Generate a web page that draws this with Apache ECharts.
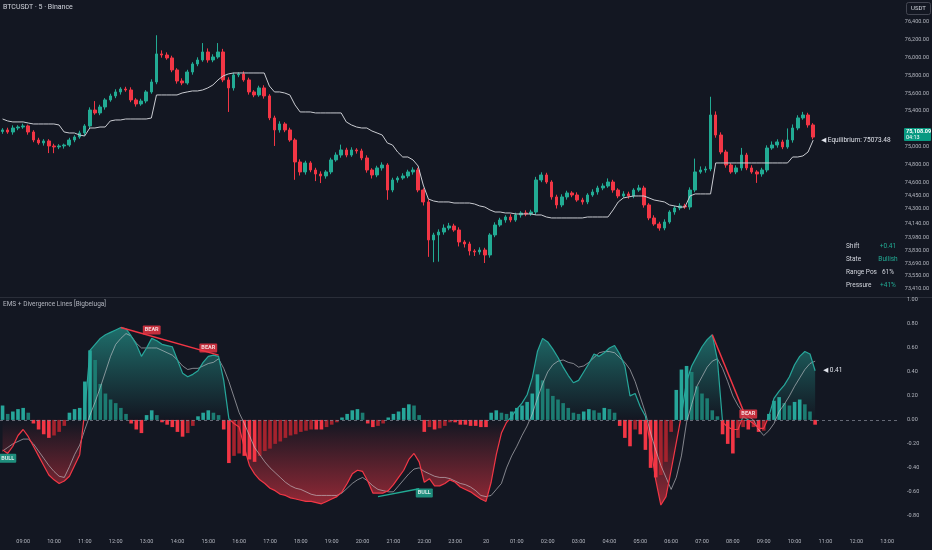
<!DOCTYPE html>
<html><head><meta charset="utf-8">
<script src="https://cdn.jsdelivr.net/npm/echarts@6/dist/echarts.min.js"></script>
<style>html,body{margin:0;padding:0;background:#131722;}#c{width:932px;height:550px;}</style>
</head><body><div id="c"></div>
<script>
// ---- data (10-minute slots starting 08:20) ----
const startTime = '08:20';
const slotCount = 175;
const firstOpen = 75170;
const closes = [75188,75165,75210,75221,75233,75165,75075,75042,75064,75008,
74997,75008,75019,75075,75109,75154,75233,75412,75379,75446,
75525,75570,75615,75648,75637,75525,75480,75513,75615,75727,
76042,76030,75997,75862,75738,75716,75839,75929,75974,76064,
75974,76008,76064,75750,75660,75806,75817,75750,75615,75581,
75660,75570,75323,75188,75255,75188,75075,74828,74716,74817,
74738,74693,74671,74716,74851,74906,74963,74906,74963,74952,
74873,74738,74682,74761,74794,74513,74626,74648,74671,74716,
74738,74513,74379,73952,74008,74041,74086,74109,74064,73929,
73907,73828,73817,73839,73783,74008,74120,74176,74210,74176,
74233,74255,74244,74266,74626,74682,74603,74435,74345,74435,
74480,74457,74401,74379,74457,74491,74536,74558,74603,74513,
74446,74469,74446,74513,74536,74345,74199,74131,74086,74154,
74266,74311,74334,74322,74513,74716,74738,74749,75356,75131,
74940,74794,74716,74761,74906,74761,74716,74693,74738,74985,
75019,75053,74997,75075,75210,75323,75356,75244,75108.09];
const upperWick = [20,25,30,20,25,15,20,25,20,20,
25,20,15,25,20,25,20,30,100,25,
20,25,30,20,25,30,20,25,20,30,
210,40,30,25,20,30,25,20,30,100,
40,30,100,35,30,25,20,30,25,20,
25,30,20,25,30,20,25,20,30,25,
20,25,30,20,25,30,60,25,30,20,
25,30,20,25,30,20,25,20,30,25,
30,25,20,30,25,30,40,35,25,30,
20,25,20,30,25,20,30,25,20,30,
25,20,30,25,35,30,25,20,25,30,
25,20,30,25,20,30,25,30,40,25,
20,30,25,20,35,25,20,30,25,30,
20,25,30,25,30,150,40,30,205,40,
30,25,20,30,80,25,30,20,25,30,
40,30,25,130,40,30,35,25,20];
const lowerWick = [25,20,30,25,20,30,25,20,30,80,
70,25,30,20,25,20,30,25,20,25,
30,20,25,30,20,25,30,20,25,20,
25,30,20,25,30,25,20,30,25,20,
30,25,20,25,270,30,25,20,30,25,
20,30,25,180,30,25,20,200,40,30,
25,80,80,30,25,20,30,25,20,30,
25,30,40,25,30,110,25,30,20,25,
30,25,40,190,250,300,30,25,20,50,
40,50,45,30,90,30,25,20,30,25,
20,30,25,20,30,25,20,30,40,25,
30,25,20,30,25,20,30,25,20,30,
25,20,30,25,20,30,25,20,30,25,
20,30,25,20,30,25,20,30,25,30,
25,30,20,25,30,25,20,100,30,25,
20,30,25,20,30,25,20,30,25];
const equilibrium = [75311,75289,75278,75278,75278,75266,75255,75255,75255,75255,
75255,75244,75165,75154,75154,75131,75120,75210,75210,75221,
75221,75289,75300,75300,75311,75311,75311,75311,75311,75322,
75581,75581,75581,75581,75581,75603,75615,75626,75626,75637,
75660,75693,75750,75795,75817,75828,75828,75828,75828,75828,
75828,75828,75682,75615,75615,75603,75581,75469,75390,75390,
75390,75379,75379,75379,75379,75379,75379,75278,75244,75221,
75210,75210,75176,75154,75131,75042,75019,74940,74884,74884,
74851,74783,74569,74412,74390,74379,74379,74379,74367,74367,
74367,74367,74356,74334,74322,74289,74266,74266,74255,74255,
74244,74244,74244,74244,74233,74233,74210,74199,74199,74199,
74199,74199,74199,74199,74210,74210,74210,74210,74210,74289,
74379,74424,74435,74446,74446,74446,74424,74401,74390,74379,
74345,74334,74322,74322,74446,74469,74469,74469,74469,74817,
74817,74817,74817,74817,74817,74817,74817,74817,74817,74817,
74817,74817,74817,74817,74884,74884,74896,74940,75073.48];
const oscMain = [-0.25,-0.28,-0.22,-0.13,-0.08,-0.14,-0.22,-0.30,-0.38,-0.46,
-0.50,-0.53,-0.51,-0.47,-0.38,-0.29,0.08,0.58,0.63,0.68,
0.71,0.73,0.75,0.77,0.76,0.70,0.63,0.53,0.60,0.68,
0.66,0.63,0.62,0.61,0.50,0.39,0.36,0.38,0.41,0.48,
0.53,0.54,0.53,0.33,0.01,-0.03,-0.06,-0.23,-0.38,-0.45,
-0.50,-0.53,-0.57,-0.59,-0.62,-0.63,-0.65,-0.66,-0.67,-0.68,
-0.68,-0.69,-0.70,-0.68,-0.66,-0.64,-0.60,-0.53,-0.45,-0.42,
-0.43,-0.51,-0.61,-0.61,-0.61,-0.59,-0.54,-0.48,-0.42,-0.33,
-0.28,-0.35,-0.52,-0.49,-0.55,-0.55,-0.53,-0.50,-0.52,-0.56,
-0.58,-0.60,-0.63,-0.66,-0.68,-0.52,-0.29,-0.11,-0.02,0.03,
0.09,0.14,0.21,0.35,0.57,0.68,0.65,0.59,0.52,0.44,
0.37,0.31,0.33,0.40,0.47,0.55,0.53,0.56,0.60,0.62,
0.55,0.45,0.20,0.22,0.11,0.03,-0.21,-0.50,-0.71,-0.64,
-0.42,-0.19,0.04,0.32,0.45,0.53,0.61,0.67,0.71,0.50,
-0.02,-0.06,-0.08,-0.08,0.03,0.00,-0.03,-0.07,-0.07,0.03,
0.18,0.24,0.29,0.36,0.46,0.53,0.57,0.55,0.41];
const oscSignal = [-0.26,-0.23,-0.20,-0.18,-0.16,-0.16,-0.20,-0.26,-0.32,-0.38,
-0.43,-0.47,-0.48,-0.39,-0.29,-0.21,-0.08,0.04,0.15,0.27,
0.40,0.53,0.63,0.68,0.72,0.70,0.64,0.60,0.60,0.60,
0.60,0.58,0.56,0.54,0.50,0.45,0.42,0.43,0.43,0.45,
0.47,0.48,0.51,0.43,0.32,0.19,0.06,-0.03,-0.13,-0.23,
-0.29,-0.35,-0.40,-0.44,-0.48,-0.52,-0.55,-0.57,-0.58,-0.60,
-0.62,-0.63,-0.63,-0.63,-0.63,-0.63,-0.61,-0.57,-0.53,-0.50,
-0.48,-0.51,-0.55,-0.58,-0.59,-0.60,-0.60,-0.55,-0.50,-0.45,
-0.41,-0.40,-0.43,-0.45,-0.47,-0.48,-0.48,-0.49,-0.51,-0.53,
-0.54,-0.56,-0.59,-0.63,-0.64,-0.63,-0.58,-0.53,-0.40,-0.30,
-0.22,-0.13,-0.05,0.05,0.18,0.30,0.40,0.46,0.49,0.50,
0.48,0.47,0.44,0.45,0.48,0.52,0.56,0.57,0.57,0.56,
0.52,0.48,0.42,0.32,0.19,0.06,-0.11,-0.25,-0.38,-0.48,
-0.58,-0.48,-0.30,-0.02,0.13,0.28,0.36,0.44,0.49,0.51,
0.43,0.32,0.20,0.12,0.06,0.03,0.00,-0.08,-0.13,-0.09,
-0.03,0.07,0.13,0.20,0.28,0.35,0.42,0.47,0.49];
const oscHist = [0.12,0.05,0.07,0.09,0.10,0.06,-0.03,-0.08,-0.12,-0.15,
-0.13,-0.10,-0.05,0.06,0.09,0.10,0.32,0.58,0.50,0.30,
0.22,0.17,0.14,0.10,0.05,-0.03,-0.08,-0.11,0.04,0.08,
0.04,-0.02,-0.04,-0.06,-0.10,-0.14,-0.11,-0.05,0.03,0.06,
0.08,0.06,0.04,-0.08,-0.36,-0.30,-0.28,-0.30,-0.33,-0.35,
-0.30,-0.26,-0.24,-0.20,-0.18,-0.15,-0.13,-0.12,-0.10,-0.09,
-0.08,-0.08,-0.08,-0.06,-0.04,-0.02,0.02,0.05,0.08,0.09,
0.06,-0.03,-0.06,-0.05,-0.03,0.02,0.05,0.07,0.10,0.13,
0.12,0.04,-0.10,-0.06,-0.08,-0.07,-0.05,-0.02,-0.02,-0.04,
-0.04,-0.05,-0.05,-0.06,-0.06,0.06,0.08,0.06,0.05,0.07,
0.10,0.12,0.15,0.22,0.38,0.33,0.26,0.20,0.17,0.14,
0.10,0.06,0.05,0.07,0.09,0.08,0.06,0.10,0.09,0.06,
-0.05,-0.15,-0.22,-0.08,-0.12,-0.25,-0.40,-0.48,-0.46,-0.35,
-0.10,0.25,0.42,0.45,0.40,0.28,0.22,0.18,0.08,0.03,
-0.12,-0.20,-0.28,-0.15,-0.06,-0.08,-0.06,-0.10,-0.09,0.05,
0.16,0.19,0.14,0.12,0.15,0.17,0.13,0.07,-0.04];
const priceTicks = [76400,76200,76000,75800,75600,75400,75000,74800,74600,74450,74300,74140,73980,73830,73690,73550,73410];
const oscTicks = [1,0.8,0.6,0.4,0.2,0,-0.2,-0.4,-0.6,-0.8];
const bearLines = [[23,0.77,42,0.54],[138,0.71,144,0.08]];
const bullLines = [[73,-0.64,81,-0.575]];
const bearTags = [[29,0.75],[40,0.60],[145,0.05]];
const bullTags = [[1,-0.32],[82,-0.61]];
const infoRows = [['Shift','+0.41','#22ab94'],['State','Bullish','#22ab94'],['Range Pos','61%','#d1d4dc'],['Pressure','+41%','#22ab94']];
const lastPrice = 75108.09, lastTimer = '04:13', eqLast = 75073.48, oscLast = 0.41;

// ---- build ----
const UP = '#22ab94', DN = '#f23645', FONT = 'Roboto, "DejaVu Sans", sans-serif';
const G2_TOP = 300, G2_H = 235, OSC_MIN = -0.96, OSC_MAX = 1;
const categories = [];
{ let [h, m] = startTime.split(':').map(Number);
  for (let k = 0; k < slotCount; k++) {
    categories.push(String(h).padStart(2,'0') + ':' + String(m).padStart(2,'0'));
    m += 10; if (m >= 60) { m -= 60; h = (h + 1) % 24; }
  } }
const candles = closes.map((c, i) => {
  const o = i === 0 ? firstOpen : closes[i - 1];
  return [o, c, Math.min(o, c) - lowerWick[i], Math.max(o, c) + upperWick[i]];
});
const histData = oscHist.map((v, i) => {
  const p = i ? oscHist[i - 1] : 0;
  const grow = (Math.sign(p) !== Math.sign(v)) || Math.abs(v) >= Math.abs(p);
  const col = v >= 0 ? (grow ? '#26a69a' : '#1c7c72') : (grow ? '#f23645' : '#a5222d');
  return { value: v, itemStyle: { color: col } };
});
const zeroOff = OSC_MAX / (OSC_MAX - OSC_MIN);   // fraction of panel height above zero
const zeroY = G2_TOP + G2_H * zeroOff;
const lineSeries = (arr, color) => arr.map(d => ({
  type: 'line', xAxisIndex: 1, yAxisIndex: 1, data: [[d[0], d[1]], [d[2], d[3]]],
  symbol: 'none', lineStyle: { color, width: 1.5 }, z: 15, silent: true
}));
const tagSeries = (arr, text, bg) => ({
  type: 'scatter', xAxisIndex: 1, yAxisIndex: 1, data: arr, symbolSize: 0.1,
  itemStyle: { color: 'transparent' }, z: 20, silent: true,
  label: { show: true, position: 'inside', formatter: text, color: '#fff', backgroundColor: bg,
    padding: [2, 2, 1, 2], fontSize: 5.5, fontWeight: 'bold', fontFamily: FONT, borderRadius: 1 }
});

const chart = echarts.init(document.getElementById('c'), null, { renderer: 'canvas' });
const axisLabelStyle = { color: '#b2b5be', fontSize: 5.5, fontFamily: FONT };
chart.setOption({
  backgroundColor: '#131722',
  animation: false,
  grid: [
    { left: 0, right: 32, top: 0, height: 297 },
    { left: 0, right: 32, top: G2_TOP, height: G2_H }
  ],
  xAxis: [
    { type: 'category', gridIndex: 0, data: categories, boundaryGap: true,
      axisLine: { show: false }, axisTick: { show: false }, axisLabel: { show: false }, splitLine: { show: false } },
    { type: 'category', gridIndex: 1, data: categories, boundaryGap: true,
      axisLine: { show: false }, axisTick: { show: false }, splitLine: { show: false },
      axisLabel: Object.assign({ margin: 4, interval: (i, v) => v.endsWith(':00'),
        formatter: v => v === '00:00' ? '20' : v }, axisLabelStyle) }
  ],
  yAxis: [
    { type: 'value', gridIndex: 0, position: 'right', min: 73311, max: 76648, scale: true,
      splitLine: { show: false }, axisLine: { show: false }, axisTick: { show: false },
      axisLabel: Object.assign({ customValues: priceTicks, margin: 7,
        formatter: v => v.toLocaleString('en-US', { minimumFractionDigits: 2, maximumFractionDigits: 2 }) }, axisLabelStyle) },
    { type: 'value', gridIndex: 1, position: 'right', min: OSC_MIN, max: OSC_MAX,
      splitLine: { show: false }, axisLine: { show: false }, axisTick: { show: false },
      axisLabel: Object.assign({ customValues: oscTicks, margin: 7, formatter: v => v.toFixed(2) }, axisLabelStyle) }
  ],
  series: [
    { type: 'candlestick', xAxisIndex: 0, yAxisIndex: 0, data: candles, barWidth: '60%',
      itemStyle: { color: UP, color0: DN, borderColor: UP, borderColor0: DN, borderWidth: 1 } },
    { type: 'line', xAxisIndex: 0, yAxisIndex: 0, data: equilibrium, symbol: 'none',
      lineStyle: { color: '#c9cbd1', width: 1 }, z: 5,
      endLabel: { show: true, formatter: () => '◀ Equilibrium: ' + eqLast.toFixed(2), color: '#e0e3eb',
        fontSize: 6.5, fontFamily: FONT, distance: 8 } },
    { type: 'line', xAxisIndex: 1, yAxisIndex: 1, data: oscMain, symbol: 'none', z: 1,
      lineStyle: { width: 0, opacity: 0 },
      areaStyle: { origin: 0, color: new echarts.graphic.LinearGradient(0, G2_TOP + 20, 0, zeroY + 102, [
        { offset: 0, color: 'rgba(38,166,154,0.95)' },
        { offset: 0.25, color: 'rgba(38,166,154,0.45)' },
        { offset: 0.49, color: 'rgba(38,166,154,0.0)' },
        { offset: 0.5, color: 'rgba(242,54,69,0.0)' },
        { offset: 0.75, color: 'rgba(242,54,69,0.5)' },
        { offset: 1, color: 'rgba(242,54,69,0.98)' }], true) } },
    { type: 'bar', xAxisIndex: 1, yAxisIndex: 1, data: histData, barWidth: '70%', z: 2,
      markLine: { silent: true, symbol: 'none', data: [{ yAxis: 0 }], label: { show: false },
        lineStyle: { type: [3, 3], color: 'rgba(130,133,145,0.75)', width: 1 } } },
    { type: 'line', xAxisIndex: 1, yAxisIndex: 1, data: oscSignal, symbol: 'none', z: 3,
      lineStyle: { color: 'rgba(205,205,210,0.6)', width: 1 } },
    { type: 'line', xAxisIndex: 1, yAxisIndex: 1, data: oscMain, symbol: 'none', z: 4,
      lineStyle: { width: 1.2, color: new echarts.graphic.LinearGradient(0, G2_TOP, 0, G2_TOP + G2_H, [
        { offset: 0, color: '#26a69a' }, { offset: zeroOff, color: '#26a69a' },
        { offset: zeroOff, color: '#f23645' }, { offset: 1, color: '#f23645' }], true) },
      endLabel: { show: true, formatter: () => '◀ ' + oscLast.toFixed(2), color: '#e0e3eb',
        fontSize: 6.5, fontFamily: FONT, distance: 8 } },
    ...lineSeries(bearLines, DN),
    ...lineSeries(bullLines, UP),
    tagSeries(bearTags, 'BEAR', DN),
    tagSeries(bullTags, 'BULL', UP)
  ]
});

const py = chart.convertToPixel({ yAxisIndex: 0 }, lastPrice);
const g = [
  { type: 'line', silent: true, shape: { x1: 0, y1: 297.5, x2: 932, y2: 297.5 }, style: { stroke: '#2a2e39', lineWidth: 1 } },
  { type: 'text', left: 3, top: 4, style: { text: 'BTCUSDT · 5 · Binance', fill: '#d1d4dc', font: '7px ' + FONT } },
  { type: 'text', left: 3, top: 301, style: { text: 'EMS + Divergence Lines [Bigbeluga]', fill: '#b2b5be', font: '6.5px ' + FONT } },
  { type: 'rect', shape: { x: 906.5, y: 2.5, width: 24, height: 12, r: 2 }, style: { fill: '#131722', stroke: '#50535e', lineWidth: 0.8 } },
  { type: 'text', x: 918.5, y: 8.5, style: { text: 'USDT', fill: '#d1d4dc', font: '6px ' + FONT, align: 'center', verticalAlign: 'middle' } },
  { type: 'rect', shape: { x: 904, y: py - 9, width: 27, height: 13, r: 1 }, style: { fill: '#089981' } },
  { type: 'text', x: 906, y: py - 5.5, style: { text: lastPrice.toLocaleString('en-US', { minimumFractionDigits: 2 }), fill: '#ffffff', font: 'bold 5.5px ' + FONT, verticalAlign: 'middle' } },
  { type: 'text', x: 906, y: py + 0.5, style: { text: lastTimer, fill: '#ffffff', font: '5.5px ' + FONT, verticalAlign: 'middle' } }
];
infoRows.forEach((r, k) => {
  const y = 246 + k * 13;
  g.push({ type: 'text', x: 846, y, style: { text: r[0], fill: '#d1d4dc', font: '6.5px ' + FONT, verticalAlign: 'middle' } });
  g.push({ type: 'text', x: 888, y, style: { text: r[1], fill: r[2], font: '6.5px ' + FONT, align: 'center', verticalAlign: 'middle' } });
});
chart.setOption({ graphic: g });
</script>
</body></html>
